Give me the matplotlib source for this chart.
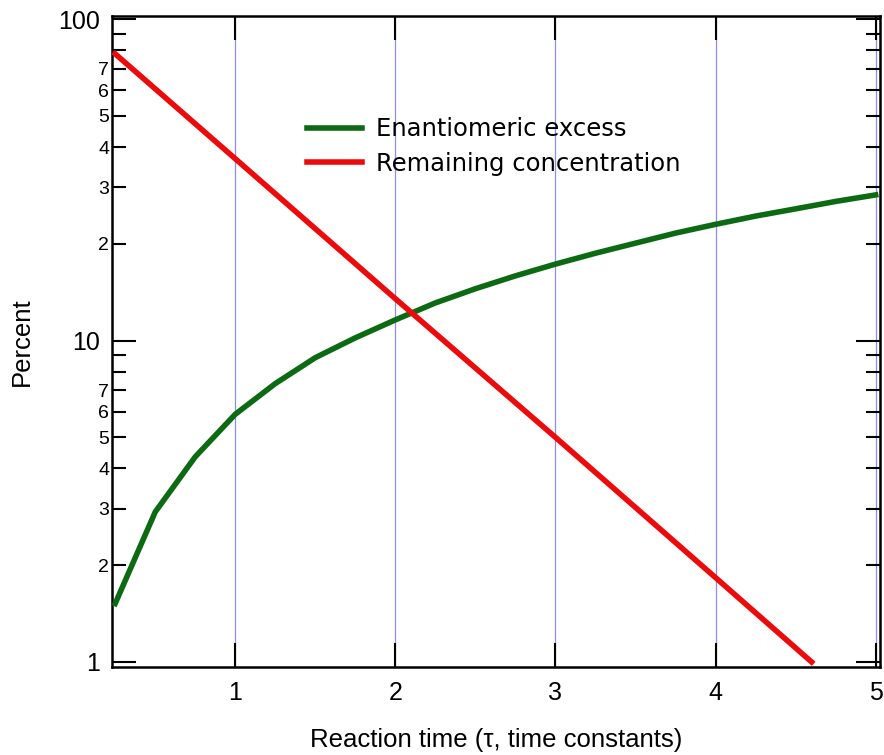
import matplotlib.pyplot as plt
from matplotlib.ticker import FixedLocator, FixedFormatter

# reaction time in time constants
t_ee = [0.25, 0.5, 0.75, 1.0, 1.25, 1.5, 1.75, 2.0, 2.25, 2.5,
        2.75, 3.0, 3.25, 3.5, 3.75, 4.0, 4.25, 4.5, 4.75, 5.0]
# enantiomeric excess (%)
ee = [1.52, 2.93, 4.35, 5.9, 7.35, 8.85, 10.2, 11.6, 13.1, 14.5,
      15.9, 17.3, 18.7, 20.1, 21.6, 23.0, 24.4, 25.7, 27.1, 28.4]

t_conc = [0.25, 1.0, 2.0, 3.0, 4.0, 4.6]
# remaining concentration (%)
conc = [78.0, 36.8, 13.5, 5.0, 1.83, 1.0]

x_ticks = [1, 2, 3, 4, 5]
y_major = [1, 10, 100]
y_minor = [2, 3, 4, 5, 6, 7, 8, 9, 20, 30, 40, 50, 60, 70, 80, 90]
y_minor_labels = ['2', '3', '4', '5', '6', '7', '', '',
                  '2', '3', '4', '5', '6', '7', '', '']

fig = plt.figure(figsize=(8.84, 7.55), dpi=100)
ax = fig.add_axes([0.1267, 0.1166, 0.8693, 0.862])

for xv in x_ticks:
    ax.axvline(xv, color='#8f8fe8', lw=0.9, zorder=1)

ax.plot(t_ee, ee, color='#0b6a12', lw=4, label='Enantiomeric excess', zorder=3)
ax.plot(t_conc, conc, color='#ec0a0a', lw=4, label='Remaining concentration', zorder=3)

ax.set_yscale('log')
ax.set_xlim(0.23, 5.03)
ax.set_ylim(0.965, 102.2)

ax.xaxis.set_major_locator(FixedLocator(x_ticks))
ax.yaxis.set_major_locator(FixedLocator(y_major))
ax.yaxis.set_major_formatter(FixedFormatter(['1', '10', '100']))
ax.yaxis.set_minor_locator(FixedLocator(y_minor))
ax.yaxis.set_minor_formatter(FixedFormatter(y_minor_labels))

ax.tick_params(axis='both', which='major', direction='in', length=17, width=1.5,
               top=True, right=True, labelsize=18, pad=10)
ax.tick_params(axis='y', which='minor', direction='in', length=10, width=1.5,
               right=True, labelsize=14, pad=2)
ax.tick_params(axis='y', which='major', pad=9)

for lbl in ax.get_xticklabels() + ax.get_yticklabels() + ax.get_yticklabels(minor=True):
    lbl.set_fontfamily('Liberation Sans')

for s in ax.spines.values():
    s.set_linewidth(1.8)

ax.set_xlabel('Reaction time (τ, time constants)', fontsize=18.5,
              fontfamily='Liberation Sans', labelpad=17)
ax.set_ylabel('Percent', fontsize=18.5, fontfamily='Liberation Sans', labelpad=17)

ax.legend(loc='upper left', bbox_to_anchor=(0.254, 0.845), frameon=False,
          prop={'family': 'DejaVu Sans', 'size': 17.5}, handlelength=2.26,
          handletextpad=0.58, labelspacing=0.45, borderpad=0, borderaxespad=0)

fig.savefig('out.png', dpi=100)
